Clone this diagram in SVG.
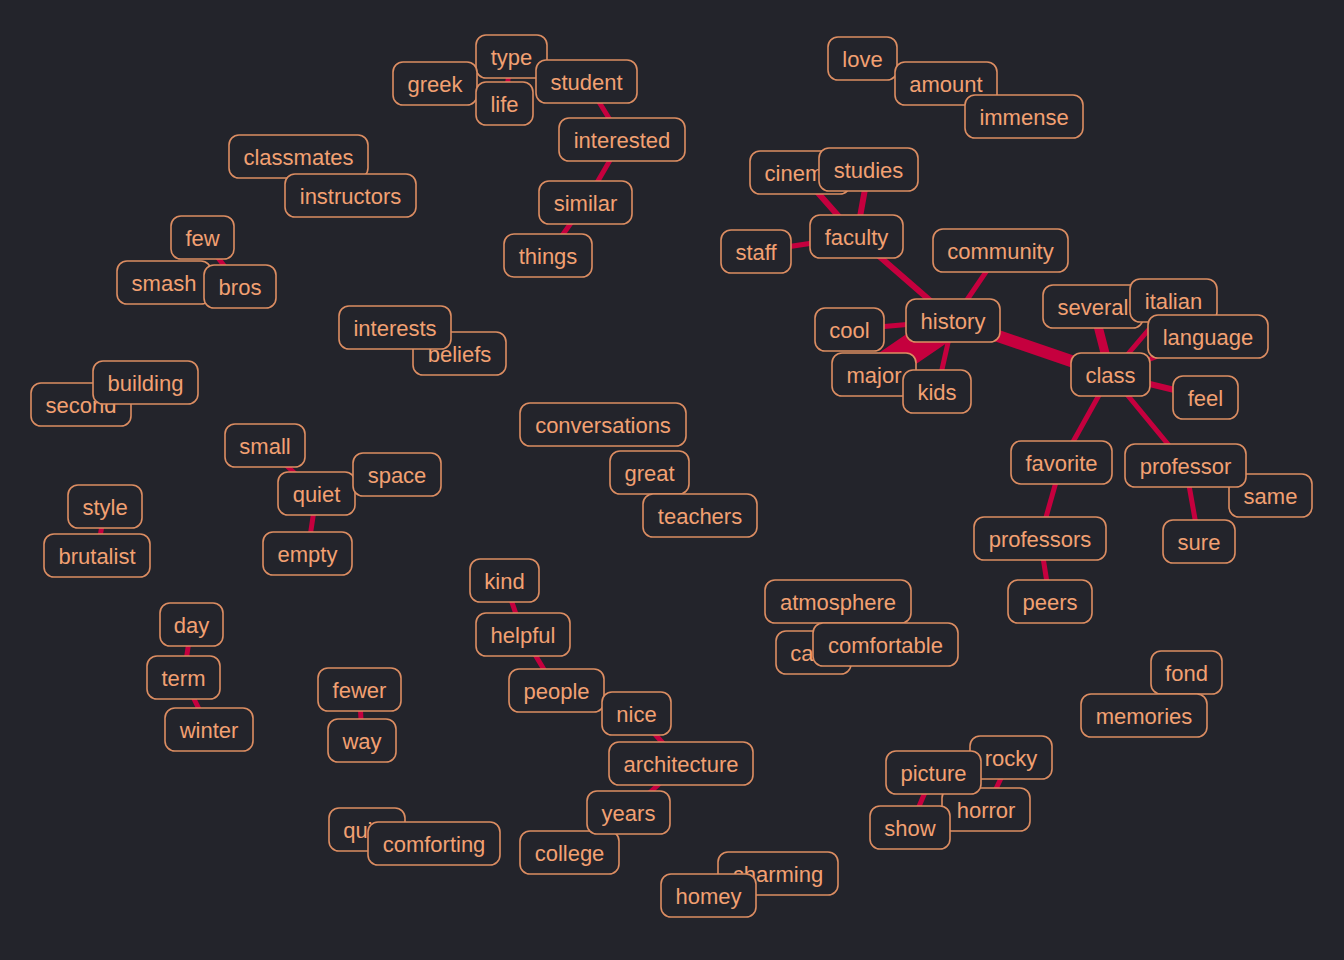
<svg xmlns="http://www.w3.org/2000/svg" width="1344" height="960" viewBox="0 0 1344 960">
<style>
.bg{fill:#23242b}
.n rect{fill:#23242b;stroke:#dc8d62;stroke-width:1.6}
.n text{font-family:"Liberation Sans",Arial,sans-serif;font-size:22px;fill:#f2a072;text-anchor:middle}
.e line{stroke:#c5003e;stroke-linecap:round}
</style>
<rect class="bg" x="0" y="0" width="1344" height="960"/>
<g id="connectors" class="e">
<line x1="511.5" y1="56.5" x2="504.5" y2="103.5" stroke-width="5"/>
<line x1="586.5" y1="81.5" x2="622" y2="139.5" stroke-width="5"/>
<line x1="622" y1="139.5" x2="585.5" y2="202.5" stroke-width="5"/>
<line x1="585.5" y1="202.5" x2="548" y2="255.5" stroke-width="5"/>
<line x1="202.5" y1="237.5" x2="240" y2="286.5" stroke-width="5"/>
<line x1="800" y1="172.5" x2="856.5" y2="236.5" stroke-width="6"/>
<line x1="868.5" y1="169.5" x2="856.5" y2="236.5" stroke-width="6"/>
<line x1="756" y1="251.5" x2="856.5" y2="236.5" stroke-width="5"/>
<line x1="856.5" y1="236.5" x2="953" y2="320.5" stroke-width="6"/>
<line x1="1000.5" y1="250.5" x2="953" y2="320.5" stroke-width="5"/>
<line x1="849.5" y1="329.5" x2="953" y2="320.5" stroke-width="5"/>
<line x1="874" y1="374.5" x2="953" y2="320.5" stroke-width="30"/>
<line x1="937" y1="391.5" x2="953" y2="320.5" stroke-width="5"/>
<line x1="953" y1="320.5" x2="1110.5" y2="374.5" stroke-width="12"/>
<line x1="1093" y1="306.5" x2="1110.5" y2="374.5" stroke-width="9"/>
<line x1="1173.5" y1="300.5" x2="1110.5" y2="374.5" stroke-width="5"/>
<line x1="1208" y1="336.5" x2="1110.5" y2="374.5" stroke-width="5"/>
<line x1="1205.5" y1="397.5" x2="1110.5" y2="374.5" stroke-width="6"/>
<line x1="1061.5" y1="462.5" x2="1110.5" y2="374.5" stroke-width="5"/>
<line x1="1185.5" y1="465.5" x2="1110.5" y2="374.5" stroke-width="5"/>
<line x1="1061.5" y1="462.5" x2="1040" y2="538.5" stroke-width="5"/>
<line x1="1040" y1="538.5" x2="1050" y2="601.5" stroke-width="5"/>
<line x1="1185.5" y1="465.5" x2="1199" y2="541.5" stroke-width="5"/>
<line x1="265" y1="445.5" x2="316.5" y2="493.5" stroke-width="5"/>
<line x1="316.5" y1="493.5" x2="307.5" y2="553.5" stroke-width="5"/>
<line x1="105" y1="506.5" x2="97" y2="555.5" stroke-width="5"/>
<line x1="504.5" y1="580.5" x2="523" y2="634.5" stroke-width="5"/>
<line x1="523" y1="634.5" x2="556.5" y2="690.5" stroke-width="5"/>
<line x1="636.5" y1="713.5" x2="681" y2="763.5" stroke-width="5"/>
<line x1="681" y1="763.5" x2="628.5" y2="812.5" stroke-width="5"/>
<line x1="191.5" y1="624.5" x2="183.5" y2="677.5" stroke-width="5"/>
<line x1="183.5" y1="677.5" x2="209" y2="729.5" stroke-width="5"/>
<line x1="359.5" y1="689.5" x2="362" y2="740.5" stroke-width="5"/>
<line x1="933.5" y1="772.5" x2="910" y2="827.5" stroke-width="5"/>
<line x1="1011" y1="757.5" x2="986" y2="809.5" stroke-width="5"/>
</g>
<g id="n-type" class="n"><rect x="476" y="35" width="71" height="43" rx="10"/><text x="511.5" y="64.5">type</text></g>
<g id="n-greek" class="n"><rect x="393" y="62" width="84" height="43" rx="10"/><text x="435" y="91.5">greek</text></g>
<g id="n-life" class="n"><rect x="476" y="82" width="57" height="43" rx="10"/><text x="504.5" y="111.5">life</text></g>
<g id="n-student" class="n"><rect x="536" y="60" width="101" height="43" rx="10"/><text x="586.5" y="89.5">student</text></g>
<g id="n-interested" class="n"><rect x="559" y="118" width="126" height="43" rx="10"/><text x="622" y="147.5">interested</text></g>
<g id="n-similar" class="n"><rect x="539" y="181" width="93" height="43" rx="10"/><text x="585.5" y="210.5">similar</text></g>
<g id="n-things" class="n"><rect x="504" y="234" width="88" height="43" rx="10"/><text x="548" y="263.5">things</text></g>
<g id="n-love" class="n"><rect x="828" y="37" width="69" height="43" rx="10"/><text x="862.5" y="66.5">love</text></g>
<g id="n-amount" class="n"><rect x="895" y="62" width="102" height="43" rx="10"/><text x="946" y="91.5">amount</text></g>
<g id="n-immense" class="n"><rect x="965" y="95" width="118" height="43" rx="10"/><text x="1024" y="124.5">immense</text></g>
<g id="n-classmates" class="n"><rect x="229" y="135" width="139" height="43" rx="10"/><text x="298.5" y="164.5">classmates</text></g>
<g id="n-instructors" class="n"><rect x="285" y="174" width="131" height="43" rx="10"/><text x="350.5" y="203.5">instructors</text></g>
<g id="n-few" class="n"><rect x="171" y="216" width="63" height="43" rx="10"/><text x="202.5" y="245.5">few</text></g>
<g id="n-smash" class="n"><rect x="117" y="261" width="94" height="43" rx="10"/><text x="164" y="290.5">smash</text></g>
<g id="n-bros" class="n"><rect x="204" y="265" width="72" height="43" rx="10"/><text x="240" y="294.5">bros</text></g>
<g id="n-beliefs" class="n"><rect x="413" y="332" width="93" height="43" rx="10"/><text x="459.5" y="361.5">beliefs</text></g>
<g id="n-interests" class="n"><rect x="339" y="306" width="112" height="43" rx="10"/><text x="395" y="335.5">interests</text></g>
<g id="n-cinema" class="n"><rect x="750" y="151" width="100" height="43" rx="10"/><text x="800" y="180.5">cinema</text></g>
<g id="n-studies" class="n"><rect x="819" y="148" width="99" height="43" rx="10"/><text x="868.5" y="177.5">studies</text></g>
<g id="n-faculty" class="n"><rect x="810" y="215" width="93" height="43" rx="10"/><text x="856.5" y="244.5">faculty</text></g>
<g id="n-staff" class="n"><rect x="721" y="230" width="70" height="43" rx="10"/><text x="756" y="259.5">staff</text></g>
<g id="n-community" class="n"><rect x="933" y="229" width="135" height="43" rx="10"/><text x="1000.5" y="258.5">community</text></g>
<g id="n-history" class="n"><rect x="906" y="299" width="94" height="43" rx="10"/><text x="953" y="328.5">history</text></g>
<g id="n-cool" class="n"><rect x="815" y="308" width="69" height="43" rx="10"/><text x="849.5" y="337.5">cool</text></g>
<g id="n-major" class="n"><rect x="832" y="353" width="84" height="43" rx="10"/><text x="874" y="382.5">major</text></g>
<g id="n-kids" class="n"><rect x="903" y="370" width="68" height="43" rx="10"/><text x="937" y="399.5">kids</text></g>
<g id="n-several" class="n"><rect x="1043" y="285" width="100" height="43" rx="10"/><text x="1093" y="314.5">several</text></g>
<g id="n-italian" class="n"><rect x="1130" y="279" width="87" height="43" rx="10"/><text x="1173.5" y="308.5">italian</text></g>
<g id="n-language" class="n"><rect x="1148" y="315" width="120" height="43" rx="10"/><text x="1208" y="344.5">language</text></g>
<g id="n-class" class="n"><rect x="1071" y="353" width="79" height="43" rx="10"/><text x="1110.5" y="382.5">class</text></g>
<g id="n-feel" class="n"><rect x="1173" y="376" width="65" height="43" rx="10"/><text x="1205.5" y="405.5">feel</text></g>
<g id="n-favorite" class="n"><rect x="1011" y="441" width="101" height="43" rx="10"/><text x="1061.5" y="470.5">favorite</text></g>
<g id="n-same" class="n"><rect x="1229" y="474" width="83" height="43" rx="10"/><text x="1270.5" y="503.5">same</text></g>
<g id="n-professor" class="n"><rect x="1125" y="444" width="121" height="43" rx="10"/><text x="1185.5" y="473.5">professor</text></g>
<g id="n-professors" class="n"><rect x="974" y="517" width="132" height="43" rx="10"/><text x="1040" y="546.5">professors</text></g>
<g id="n-sure" class="n"><rect x="1163" y="520" width="72" height="43" rx="10"/><text x="1199" y="549.5">sure</text></g>
<g id="n-peers" class="n"><rect x="1008" y="580" width="84" height="43" rx="10"/><text x="1050" y="609.5">peers</text></g>
<g id="n-second" class="n"><rect x="31" y="383" width="100" height="43" rx="10"/><text x="81" y="412.5">second</text></g>
<g id="n-building" class="n"><rect x="93" y="361" width="105" height="43" rx="10"/><text x="145.5" y="390.5">building</text></g>
<g id="n-small" class="n"><rect x="225" y="424" width="80" height="43" rx="10"/><text x="265" y="453.5">small</text></g>
<g id="n-quiet" class="n"><rect x="278" y="472" width="77" height="43" rx="10"/><text x="316.5" y="501.5">quiet</text></g>
<g id="n-space" class="n"><rect x="353" y="453" width="88" height="43" rx="10"/><text x="397" y="482.5">space</text></g>
<g id="n-empty" class="n"><rect x="263" y="532" width="89" height="43" rx="10"/><text x="307.5" y="561.5">empty</text></g>
<g id="n-conversations" class="n"><rect x="520" y="403" width="166" height="43" rx="10"/><text x="603" y="432.5">conversations</text></g>
<g id="n-great" class="n"><rect x="610" y="451" width="79" height="43" rx="10"/><text x="649.5" y="480.5">great</text></g>
<g id="n-teachers" class="n"><rect x="643" y="494" width="114" height="43" rx="10"/><text x="700" y="523.5">teachers</text></g>
<g id="n-style" class="n"><rect x="68" y="485" width="74" height="43" rx="10"/><text x="105" y="514.5">style</text></g>
<g id="n-brutalist" class="n"><rect x="44" y="534" width="106" height="43" rx="10"/><text x="97" y="563.5">brutalist</text></g>
<g id="n-kind" class="n"><rect x="470" y="559" width="69" height="43" rx="10"/><text x="504.5" y="588.5">kind</text></g>
<g id="n-helpful" class="n"><rect x="476" y="613" width="94" height="43" rx="10"/><text x="523" y="642.5">helpful</text></g>
<g id="n-people" class="n"><rect x="509" y="669" width="95" height="43" rx="10"/><text x="556.5" y="698.5">people</text></g>
<g id="n-nice" class="n"><rect x="602" y="692" width="69" height="43" rx="10"/><text x="636.5" y="721.5">nice</text></g>
<g id="n-architecture" class="n"><rect x="609" y="742" width="144" height="43" rx="10"/><text x="681" y="771.5">architecture</text></g>
<g id="n-college" class="n"><rect x="520" y="831" width="99" height="43" rx="10"/><text x="569.5" y="860.5">college</text></g>
<g id="n-years" class="n"><rect x="587" y="791" width="83" height="43" rx="10"/><text x="628.5" y="820.5">years</text></g>
<g id="n-day" class="n"><rect x="160" y="603" width="63" height="43" rx="10"/><text x="191.5" y="632.5">day</text></g>
<g id="n-term" class="n"><rect x="147" y="656" width="73" height="43" rx="10"/><text x="183.5" y="685.5">term</text></g>
<g id="n-winter" class="n"><rect x="165" y="708" width="88" height="43" rx="10"/><text x="209" y="737.5">winter</text></g>
<g id="n-fewer" class="n"><rect x="318" y="668" width="83" height="43" rx="10"/><text x="359.5" y="697.5">fewer</text></g>
<g id="n-way" class="n"><rect x="328" y="719" width="68" height="43" rx="10"/><text x="362" y="748.5">way</text></g>
<g id="n-quite" class="n"><rect x="329" y="808" width="76" height="43" rx="10"/><text x="367" y="837.5">quite</text></g>
<g id="n-comforting" class="n"><rect x="368" y="822" width="132" height="43" rx="10"/><text x="434" y="851.5">comforting</text></g>
<g id="n-atmosphere" class="n"><rect x="765" y="580" width="146" height="43" rx="10"/><text x="838" y="609.5">atmosphere</text></g>
<g id="n-calm" class="n"><rect x="776" y="631" width="75" height="43" rx="10"/><text x="813.5" y="660.5">calm</text></g>
<g id="n-comfortable" class="n"><rect x="813" y="623" width="145" height="43" rx="10"/><text x="885.5" y="652.5">comfortable</text></g>
<g id="n-fond" class="n"><rect x="1151" y="651" width="71" height="43" rx="10"/><text x="1186.5" y="680.5">fond</text></g>
<g id="n-memories" class="n"><rect x="1081" y="694" width="126" height="43" rx="10"/><text x="1144" y="723.5">memories</text></g>
<g id="n-rocky" class="n"><rect x="970" y="736" width="82" height="43" rx="10"/><text x="1011" y="765.5">rocky</text></g>
<g id="n-horror" class="n"><rect x="942" y="788" width="88" height="43" rx="10"/><text x="986" y="817.5">horror</text></g>
<g id="n-picture" class="n"><rect x="886" y="751" width="95" height="43" rx="10"/><text x="933.5" y="780.5">picture</text></g>
<g id="n-show" class="n"><rect x="870" y="806" width="80" height="43" rx="10"/><text x="910" y="835.5">show</text></g>
<g id="n-charming" class="n"><rect x="718" y="852" width="120" height="43" rx="10"/><text x="778" y="881.5">charming</text></g>
<g id="n-homey" class="n"><rect x="661" y="874" width="95" height="43" rx="10"/><text x="708.5" y="903.5">homey</text></g>
</svg>
